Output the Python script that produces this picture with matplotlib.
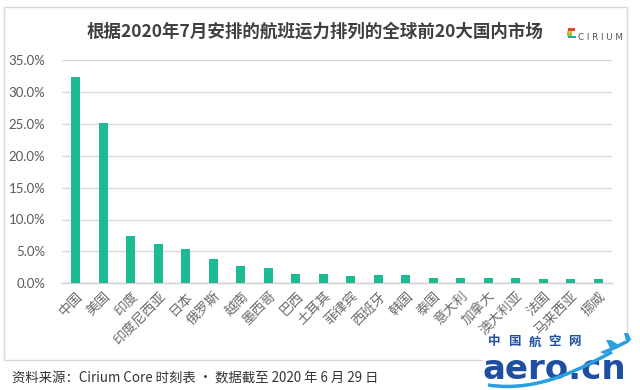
import matplotlib
matplotlib.use("Agg")
import matplotlib.pyplot as plt
from matplotlib.patches import Rectangle, PathPatch, Polygon
from matplotlib.path import Path

countries = ["中国", "美国", "印度", "印度尼西亚", "日本", "俄罗斯", "越南", "墨西哥", "巴西", "土耳其",
             "菲律宾", "西班牙", "韩国", "泰国", "意大利", "加拿大", "澳大利亚", "法国", "马来西亚", "挪威"]
shares = [32.4, 25.1, 7.45, 6.2, 5.3, 3.75, 2.65, 2.35, 1.45, 1.45,
          1.2, 1.25, 1.25, 0.85, 0.85, 0.9, 0.9, 0.75, 0.75, 0.75]
yticks = [0, 5, 10, 15, 20, 25, 30, 35]
title = "根据2020年7月安排的航班运力排列的全球前20大国内市场"
source = "资料来源：Cirium Core 时刻表 · 数据截至 2020 年 6 月 29 日"
logo_cn = "中国航空网"
logo_en = "aero.cn"

W, H = 640, 390
CJK = ["Noto Sans CJK SC", "DejaVu Sans"]

def P(x, y):
    return (x / W, 1 - y / H)

fig = plt.figure(figsize=(6.4, 3.9), dpi=100)
fig.patch.set_facecolor("white")

# outer frame
fx0, fy0 = P(4, 360)
fig.add_artist(Rectangle((fx0, fy0), 623 / W, 353 / H, transform=fig.transFigure,
                         fill=False, edgecolor="#d9d9d9", linewidth=1.0, zorder=0))

ax = fig.add_axes([62 / W, (H - 283.3) / H, 550 / W, (283.3 - 60) / H])
x = list(range(len(countries)))
ax.bar(x, shares, width=0.31, color="#1dba93", zorder=3)
ax.set_xlim(-0.5, len(countries) - 0.5)
ax.set_ylim(0, 35)
ax.set_yticks(yticks)
ax.set_yticklabels([f"{v:.1f}%" for v in yticks], family=["Lato", "DejaVu Sans"],
                   fontsize=9.5, color="#595959")
ax.set_xticks(x)
ax.set_xticklabels(countries, rotation=45, ha="right", va="top", rotation_mode="anchor",
                   family=CJK, fontsize=9.8, color="#6b6b6b")
ax.tick_params(axis="both", length=0)
ax.tick_params(axis="y", pad=12)
ax.tick_params(axis="x", pad=4)
ax.grid(axis="y", color="#d9d9d9", linewidth=1.0, zorder=0)
for s in ["top", "right", "left"]:
    ax.spines[s].set_visible(False)
ax.spines["bottom"].set_color("#d0d0d0")
ax.spines["bottom"].set_linewidth(1.0)

# title
fig.text(*P(315, 32), title, family=CJK, fontsize=12.6, fontweight="bold",
         color="#404040", ha="center", va="center")

# Cirium logo
stripes = [("#e8452c", 29.5, 568, 575), ("#f2b632", 32, 567, 572), ("#8cc63f", 34.5, 567, 572),
           ("#2aa7a0", 37, 568, 576)]
for col, yy, xa, xb in stripes:
    xa_, ya_ = P(xa, yy + 1)
    fig.add_artist(Rectangle((xa_, ya_), (xb - xa) / W, 2.2 / H, transform=fig.transFigure,
                             color=col, linewidth=0))
fig.text(*P(578, 37), "C I R I U M", family=["DejaVu Sans"], fontsize=6.3,
         color="#555555", ha="left", va="center")

# source
fig.text(*P(12, 379), source, family=CJK, fontsize=9.6, color="#333333",
         ha="left", va="center")

# aero.cn watermark
bx, by = P(483, 390)
fig.add_artist(Rectangle((bx, by), 157 / W, 52 / H, transform=fig.transFigure,
                         color="white", linewidth=0, zorder=4))
blue = "#1f4fa0"
light = "#2a9fe0"
for i, ch in enumerate(logo_cn):
    fig.text(*P(494 + i * 20.3, 342), ch, family=CJK, fontsize=9.0, fontweight="bold",
             color=blue, ha="center", va="center", zorder=6)
fig.text(*P(483, 379), logo_en, family=["DejaVu Sans"], fontsize=24.5, fontweight="bold",
         color=blue, ha="left", va="baseline", zorder=6)
# swoosh
verts = [P(488, 385), P(540, 393), P(585, 366), P(612, 352)]
path = Path(verts, [Path.MOVETO, Path.CURVE4, Path.CURVE4, Path.CURVE4])
fig.add_artist(PathPatch(path, transform=fig.transFigure, fill=False,
                         edgecolor=light, linewidth=2.5, zorder=7))
# plane
plane = [P(600, 352), P(612, 347), P(624, 341), P(632, 339), P(628, 343), P(616, 349),
         P(604, 354)]
fig.add_artist(Polygon(plane, closed=True, transform=fig.transFigure, color=light,
                       linewidth=0, zorder=7))
wing = [P(610, 348), P(606, 340), P(611, 340), P(619, 345)]
fig.add_artist(Polygon(wing, closed=True, transform=fig.transFigure, color=light,
                       linewidth=0, zorder=7))
tail = [P(626, 341), P(624, 333), P(628, 333), P(631, 339)]
fig.add_artist(Polygon(tail, closed=True, transform=fig.transFigure, color=light,
                       linewidth=0, zorder=7))

fig.savefig("out.png", dpi=100, facecolor="white")
